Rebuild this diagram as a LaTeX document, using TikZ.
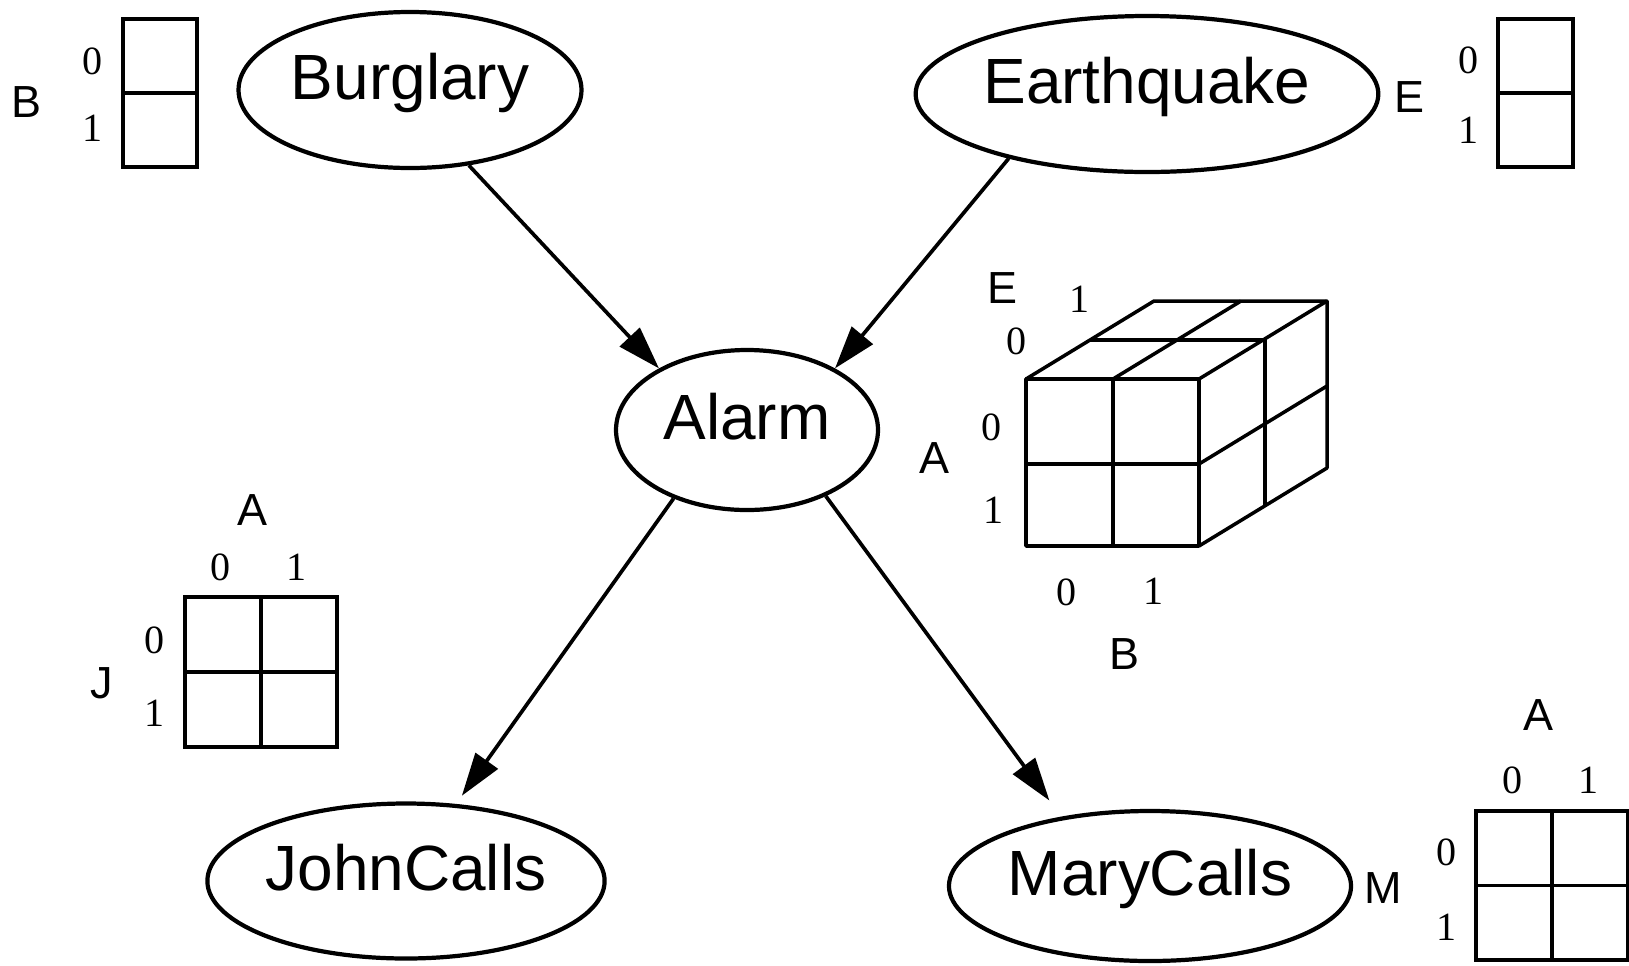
\documentclass[tikz,border=0pt]{standalone}
\usepackage{fontspec}
\setmainfont{Liberation Sans}
\newfontfamily\numfont{Liberation Serif}
\usepackage{tikz}
\usetikzlibrary{shapes.geometric,arrows.meta,positioning}

\begin{document}
\begin{tikzpicture}[>={Triangle[length=0.86cm,width=0.54cm]},line width=2.1pt,
  var/.style={ellipse,draw,line width=2.4pt,inner sep=0pt,font=\fontsize{36.4}{40}\selectfont,text height=25pt,text depth=14pt},
  lbl/.style={inner sep=0pt,font=\fontsize{25.6}{28}\selectfont},
  val/.style={inner sep=0pt,font=\numfont\fontsize{22.8}{25}\selectfont},
  cpt/.style={draw,line width=2pt,inner sep=0pt}]
  \useasboundingbox (0,0) rectangle (32.58,-19.3);

    % The network
	\node [var,minimum width=6.86cm,minimum height=3.12cm] at (8.2,-1.8) (B) {Burglary};
	\node [var,minimum width=8.62cm,minimum height=3.12cm] at (22.94,-1.88) (E) {Earthquake};
	\node [var,minimum width=5.24cm,minimum height=3.2cm] at (14.94,-8.6) (A) {Alarm};
	\node [var,minimum width=7.7cm,minimum height=3.1cm] at (8.12,-17.62) (J) {JohnCalls};
	\node [var,minimum width=7.9cm,minimum height=3.0cm] at (23.0,-17.72) (M) {MaryCalls};

	% Network edges
	\path[->]
	(B.-52) edge (A.145)
	(E.-155) edge (A.35)
	(A.-137) edge[shorten >=0.2cm] (J.57)
	(A.-40) edge[shorten >=0.4cm] (M.142)
	;

	% Table for B
	\node [cpt,minimum width=1.48cm,minimum height=2.96cm] at (3.2,-1.86) (Btab) {};
	\draw (Btab.west) -- (Btab.east);
	\node [lbl] at (0.54,-2.04) (Blbl) {B};
	\node [val] at (1.86,-1.22) (B0) {0};
	\node [val] at (1.86,-2.56) (B1) {1};

	% Table for E
	\node [cpt,minimum width=1.5cm,minimum height=2.96cm] at (30.71,-1.86) (Etab) {};
	\draw (Etab.west) -- (Etab.east);
	\node [lbl] at (28.18,-1.94) (Elbl) {E};
	\node [val] at (29.38,-1.2) (E0) {0};
	\node [val] at (29.38,-2.6) (E1) {1};

	% Table for J
	\node [cpt,minimum width=3.04cm,minimum height=3.0cm] at (5.22,-13.44) (Jtab) {};
	\draw (Jtab.north) -- (Jtab.south);
	\draw (Jtab.west) -- (Jtab.east);
	\node [lbl] at (5.06,-10.2) (JAlbl) {A};
	\node [val] at (4.42,-11.34) (JA0) {0};
	\node [val] at (5.94,-11.34) (JA1) {1};
	\node [lbl] at (2.04,-13.66) (Jlbl) {J};
	\node [val] at (3.1,-12.8) (J0) {0};
	\node [val] at (3.1,-14.26) (J1) {1};

	% Table for M
	\node [cpt,minimum width=3.04cm,minimum height=2.98cm] at (31.04,-17.71) (Mtab) {};
	\draw (Mtab.north) -- (Mtab.south);
	\draw (Mtab.west) -- (Mtab.east);
	\node [lbl] at (30.76,-14.3) (MAlbl) {A};
	\node [val] at (30.26,-15.6) (MA0) {0};
	\node [val] at (31.78,-15.6) (MA1) {1};
	\node [lbl] at (27.66,-17.76) (Mlbl) {M};
	\node [val] at (28.94,-17.04) (M0) {0};
	\node [val] at (28.94,-18.54) (M1) {1};

	% Table for A (cube)
	\draw [line width=2pt,line join=round] (20.52,-7.58) rectangle (23.98,-10.92);
	\draw [line width=2pt] (22.26,-7.58) -- (22.26,-10.92);
	\draw [line width=2pt] (20.52,-9.28) -- (23.98,-9.28);
	\draw [line width=2pt,line join=round] (20.52,-7.58) -- (23.08,-6.02) -- (26.54,-6.02) -- (26.54,-9.36) -- (23.98,-10.92);
	\draw [line width=2pt] (22.26,-7.58) -- (24.82,-6.02);
	\draw [line width=2pt] (23.98,-7.58) -- (26.54,-6.02);
	\draw [line width=2pt] (21.80,-6.80) -- (25.30,-6.80) -- (25.30,-10.14);
	\draw [line width=2pt] (23.98,-9.28) -- (26.54,-7.72);
	\node [lbl] at (20.04,-5.76) (CElbl) {E};
	\node [val] at (21.6,-5.98) (CE1) {1};
	\node [val] at (20.34,-6.82) (CE0) {0};
	\node [lbl] at (18.68,-9.16) (CAlbl) {A};
	\node [val] at (19.84,-8.54) (CA0) {0};
	\node [val] at (19.88,-10.2) (CA1) {1};
	\node [lbl] at (22.48,-13.08) (CBlbl) {B};
	\node [val] at (21.34,-11.84) (CB0) {0};
	\node [val] at (23.08,-11.82) (CB1) {1};

\end{tikzpicture}
\end{document}
